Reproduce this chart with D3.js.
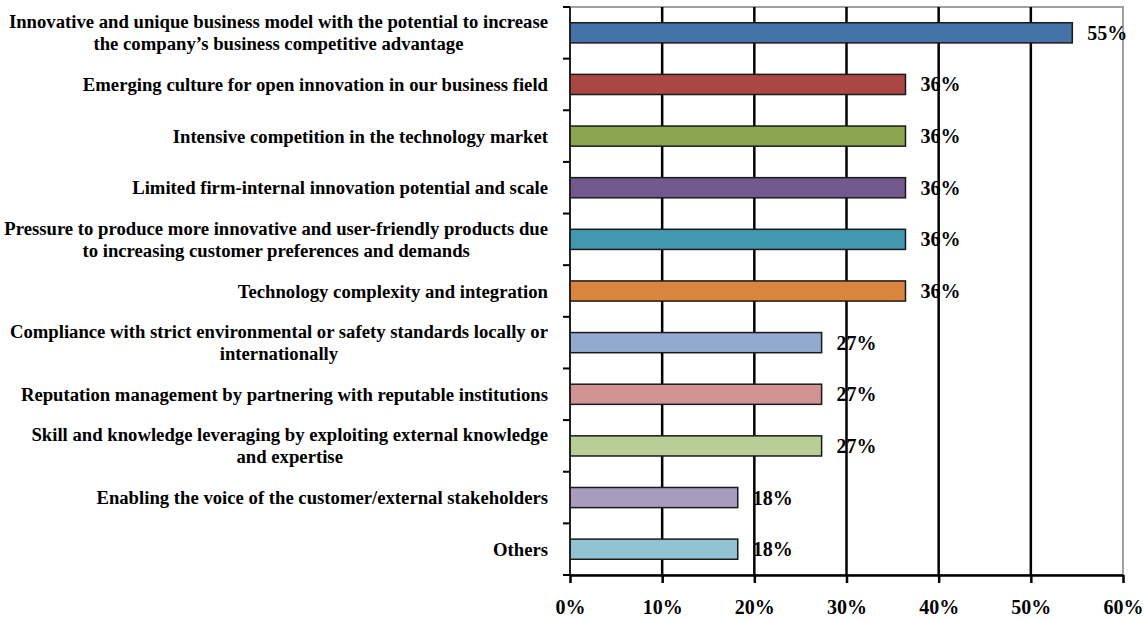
<!DOCTYPE html>
<html><head><meta charset="utf-8">
<script src="https://cdn.jsdelivr.net/npm/d3@7"></script>
<style>body{margin:0;background:#fff}svg{display:block}</style>
</head><body>
<svg id="c" width="1144" height="620"></svg>
<script>
const categories = [
  "Innovative and unique business model with the potential to increase\nthe company’s business competitive advantage",
  "Emerging culture for open innovation in our business field",
  "Intensive competition in the technology market",
  "Limited firm-internal innovation potential and scale",
  "Pressure to produce more innovative and user-friendly products due\nto increasing customer preferences and demands",
  "Technology complexity and integration",
  "Compliance with strict environmental or safety standards locally or\ninternationally",
  "Reputation management by partnering with reputable institutions",
  "Skill and knowledge leveraging by exploiting external knowledge\nand expertise",
  "Enabling the voice of the customer/external stakeholders",
  "Others"
];
const values = [54.5, 36.4, 36.4, 36.4, 36.4, 36.4, 27.3, 27.3, 27.3, 18.2, 18.2];
const valueLabels = ["55%", "36%", "36%", "36%", "36%", "36%", "27%", "27%", "27%", "18%", "18%"];
const colors = ["#4572A7", "#AA4643", "#89A54E", "#71588F", "#4198AF", "#DB843D",
                "#93A9CF", "#D19392", "#B9CD96", "#A99BBD", "#92C3D4"];
const xTicks = [0, 10, 20, 30, 40, 50, 60];
const xTickLabels = ["0%", "10%", "20%", "30%", "40%", "50%", "60%"];

const svg = d3.select("#c");
const L = 570, R = 1123, T = 7, B = 575;
const font = "'Liberation Serif', 'Times New Roman', serif";

const x = d3.scaleLinear().domain([0, 60]).range([L, R]);
const y = d3.scaleBand().domain(d3.range(categories.length)).range([T, B]).paddingInner(0.61).paddingOuter(0.305);
const yb = d3.scaleBand().domain(d3.range(categories.length)).range([T, B]);

// plot border (top/right gray)
svg.append("rect").attr("x", L).attr("y", T).attr("width", R - L).attr("height", B - T)
  .attr("fill", "none").attr("stroke", "#a0a0a0").attr("stroke-width", 2);

// gridlines
svg.append("g").selectAll("line").data(xTicks.filter(d => d > 0 && d < 60)).join("line")
  .attr("x1", d => x(d)).attr("x2", d => x(d)).attr("y1", T).attr("y2", B)
  .attr("stroke", "#000").attr("stroke-width", 2.5);

// bars
svg.append("g").selectAll("rect").data(values).join("rect")
  .attr("x", x(0)).attr("y", (d, i) => y(i))
  .attr("width", d => x(d) - x(0)).attr("height", y.bandwidth())
  .attr("fill", (d, i) => colors[i]).attr("stroke", "#1a1a1a").attr("stroke-width", 1.5);

// left axis line and ticks at band boundaries
svg.append("line").attr("x1", L).attr("x2", L).attr("y1", T).attr("y2", B + 1)
  .attr("stroke", "#222").attr("stroke-width", 2);
const bounds = d3.range(categories.length + 1).map(i => i < categories.length ? yb(i) : B);
svg.append("g").selectAll("line").data(bounds).join("line")
  .attr("x1", L - 7).attr("x2", L).attr("y1", d => d).attr("y2", d => d)
  .attr("stroke", "#000").attr("stroke-width", 2);

// bottom axis
const xAxis = d3.axisBottom(x).tickValues(xTicks).tickFormat((d, i) => xTickLabels[i]).tickSize(8).tickSizeOuter(0);
const gx = svg.append("g").attr("transform", `translate(0,${B})`).call(xAxis);
gx.select(".domain").attr("stroke", "#000").attr("stroke-width", 2.5);
gx.selectAll(".tick line").attr("stroke", "#000").attr("stroke-width", 2.5);
gx.selectAll(".tick text").attr("y", 25).attr("font-family", font).attr("font-weight", "bold")
  .attr("font-size", 20).attr("fill", "#000");

// category labels
const labelRight = 548;
categories.forEach((c, i) => {
  const lines = c.split("\n");
  const cy = yb(i) + yb.bandwidth() / 2;
  const g = svg.append("g");
  const texts = lines.map((ln, j) => g.append("text")
    .attr("font-family", font).attr("font-weight", "bold").attr("font-size", 18.7)
    .attr("fill", "#000").attr("dominant-baseline", "central")
    .attr("y", cy + (j - (lines.length - 1) / 2) * 22).text(ln));
  const widths = texts.map(t => t.node().getComputedTextLength());
  const maxW = d3.max(widths);
  const center = labelRight - maxW / 2;
  texts.forEach(t => t.attr("x", center).attr("text-anchor", "middle"));
});

// value labels
svg.append("g").selectAll("text").data(values).join("text")
  .attr("x", d => x(d) + 15).attr("y", (d, i) => y(i) + y.bandwidth() / 2)
  .attr("dominant-baseline", "central")
  .attr("font-family", font).attr("font-weight", "bold").attr("font-size", 20).attr("fill", "#000")
  .text((d, i) => valueLabels[i]);
</script>
</body></html>
